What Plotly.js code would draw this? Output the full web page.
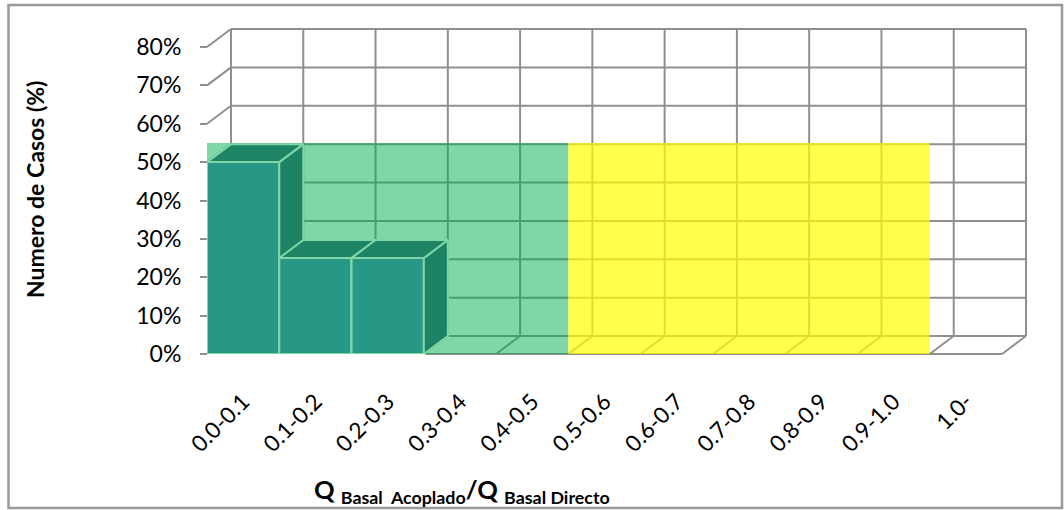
<!DOCTYPE html>
<html>
<head>
<meta charset="utf-8">
<script src="https://cdn.plot.ly/plotly-3.0.1.min.js"></script>
<style>html,body{margin:0;padding:0;background:#fff;}#chart{width:1064px;height:510px;}</style>
</head>
<body>
<div id="chart"></div>
<script>
// ---- data ----
const categories = ['0.0-0.1','0.1-0.2','0.2-0.3','0.3-0.4','0.4-0.5','0.5-0.6','0.6-0.7','0.7-0.8','0.8-0.9','0.9-1.0','1.0-'];
const casos = [50, 25, 25, 0, 0, 0, 0, 0, 0, 0, 0];           // % of cases
const yTickVals = [0, 10, 20, 30, 40, 50, 60, 70, 80];
const yTickText = ['0%','10%','20%','30%','40%','50%','60%','70%','80%'];
const zoneFrom = ['0.0-0.1', '0.5-0.6'];
const zoneTo   = ['0.4-0.5', '0.9-1.0'];
const zoneTop  = [55, 55];

// ---- style / geometry ----
const FONT = 'Lato, "Open Sans", sans-serif';
const DX = 0.332;          // depth offset in category units
const DY = 4.69;           // depth offset in % units
const YMAX = 80;
const zoneColors = ['rgba(0,176,80,0.5)', 'rgba(255,255,0,0.7)'];
const GRID = '#8f8f8f';
const BAR_FRONT = '#4F81BD', BAR_SIDE = 'rgb(56,86,120)', BAR_TOP = 'rgb(58,90,124)';

// plot area in px: x 207..1026, y 29..354 ; pad 4px for line clipping
const PADX = 4 / 72.27, PADY = 4 / 3.8375;
const nCat = categories.length;
const xr = [-0.5 - PADX, nCat - 0.5 + DX + PADX];
const yr = [-PADY, YMAX + DY + PADY];

// ---- grid (back wall, left wall, floor) ----
const gx = [], gy = [];
function seg(x0, y0, x1, y1) { gx.push(x0, x1, null); gy.push(y0, y1, null); }
yTickVals.forEach(v => {
  seg(-0.5 + DX, v + DY, nCat - 0.5 + DX, v + DY);   // back wall horizontal
  seg(-0.5, v, -0.5 + DX, v + DY);                     // left wall
});
for (let i = 0; i <= nCat; i++) {
  const xb = i - 0.5;
  seg(xb + DX, DY, xb + DX, YMAX + DY);                // back wall vertical
  seg(xb, 0, xb + DX, DY);                             // floor depth line
}
seg(-0.5, 0, nCat - 0.5, 0);                           // floor front edge

const traces = [{
  type: 'scatter', mode: 'lines', x: gx, y: gy,
  line: { color: GRID, width: 2 }, hoverinfo: 'skip'
}];

// ---- 3D bars ----
const edge = { color: '#ffffff', width: 2 };
casos.forEach((v, i) => {
  if (!(v > 0)) return;
  const l = i - 0.5, r = i + 0.5;
  traces.push({ type: 'scatter', mode: 'lines', fill: 'toself', fillcolor: BAR_FRONT, line: edge,
    x: [l, r, r, l, l], y: [0, 0, v, v, 0], hoverinfo: 'skip' });
  traces.push({ type: 'scatter', mode: 'lines', fill: 'toself', fillcolor: BAR_SIDE, line: edge,
    x: [r, r + DX, r + DX, r, r], y: [0, DY, v + DY, v, 0], hoverinfo: 'skip' });
  traces.push({ type: 'scatter', mode: 'lines', fill: 'toself', fillcolor: BAR_TOP, line: edge,
    x: [l, r, r + DX, l + DX, l], y: [v, v, v + DY, v + DY, v], hoverinfo: 'skip' });
});

// ---- translucent highlight zones ----
zoneFrom.forEach((c, k) => {
  const a = categories.indexOf(c) - 0.5, b = categories.indexOf(zoneTo[k]) + 0.5;
  traces.push({ type: 'scatter', mode: 'lines', fill: 'toself', fillcolor: zoneColors[k],
    line: { width: 0, color: 'rgba(0,0,0,0)' },
    x: [a, b, b, a, a], y: [0, 0, zoneTop[k], zoneTop[k], 0], hoverinfo: 'skip' });
});

// ---- layout ----
const L = 203, R = 34, T = 25, B = 152, W = 1064, H = 510;
const pw = W - L - R, ph = H - T - B;
const px2x = p => (p - L) / pw;
const py2y = p => (H - B - p) / ph;

const layout = {
  width: W, height: H,
  margin: { l: L, r: R, t: T, b: B, pad: 0 },
  paper_bgcolor: '#ffffff', plot_bgcolor: '#ffffff',
  showlegend: false, hovermode: false,
  font: { family: FONT, color: '#000000', size: 22 },
  xaxis: {
    range: xr, anchor: 'free', position: py2y(354),
    tickmode: 'array', tickvals: categories.map((c, i) => i), ticktext: categories,
    tickangle: -45, ticks: '', showgrid: false, zeroline: false, showline: false,
    ticklabelstandoff: 29,
    tickfont: { family: FONT, size: 22.5, color: '#000' }, fixedrange: true
  },
  yaxis: {
    range: yr, anchor: 'free', position: px2x(207),
    tickmode: 'array', tickvals: yTickVals, ticktext: yTickText,
    ticks: 'outside', ticklen: 7, tickwidth: 2, tickcolor: GRID,
    ticklabelstandoff: 14,
    showgrid: false, zeroline: false, showline: false,
    tickfont: { family: FONT, size: 23, color: '#000' }, fixedrange: true
  },
  annotations: [
    { xref: 'paper', yref: 'paper', x: px2x(35), y: py2y(190), xanchor: 'center', yanchor: 'middle',
      text: '<b>Numero de Casos (%)</b>', textangle: -90, showarrow: false,
      font: { family: FONT, size: 23, color: '#000' } },
    { xref: 'paper', yref: 'paper', x: px2x(312), y: py2y(491), xanchor: 'left', yanchor: 'middle',
      text: '<b>Q <sub>Basal&nbsp; Acoplado</sub>/Q <sub>Basal Directo</sub></b>', showarrow: false,
      font: { family: FONT, size: 25.5, color: '#000' } }
  ],
  shapes: [
    { type: 'rect', xref: 'paper', yref: 'paper', x0: px2x(8.5), x1: px2x(1062), y0: py2y(508), y1: py2y(5),
      line: { color: '#999999', width: 2.5 }, fillcolor: 'rgba(0,0,0,0)', layer: 'above' }
  ]
};

Plotly.newPlot('chart', traces, layout, { staticPlot: true, displayModeBar: false });
</script>
</body>
</html>
